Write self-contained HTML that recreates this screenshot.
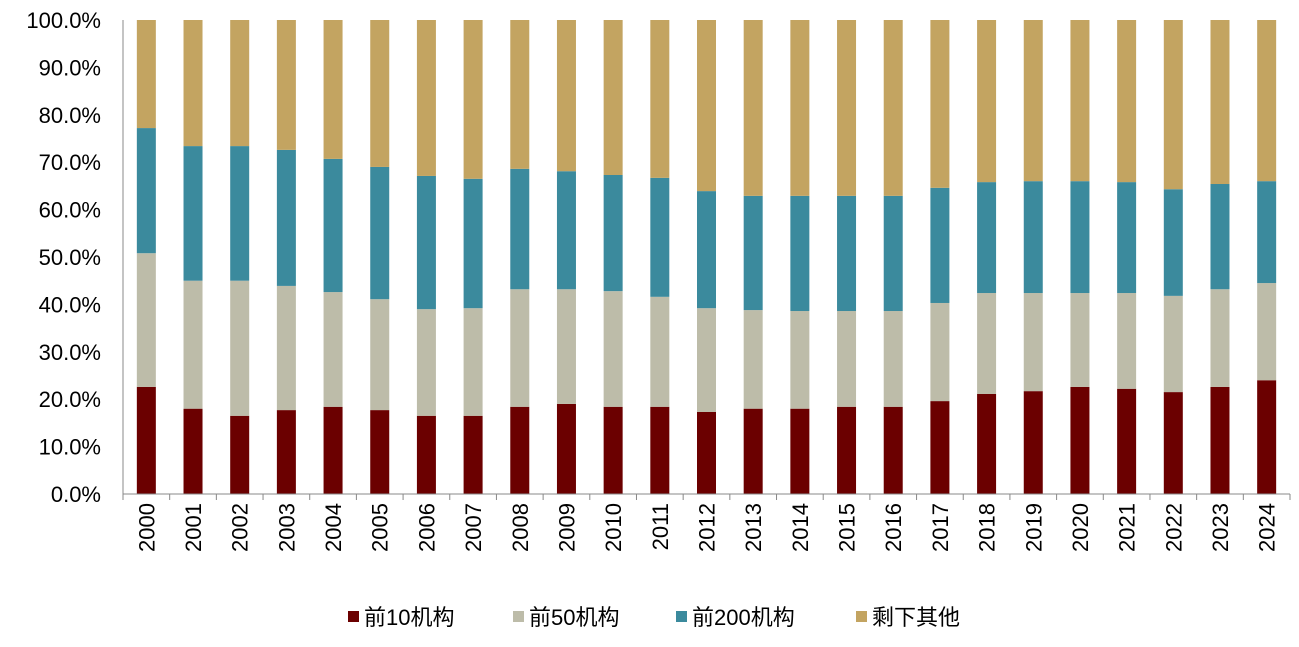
<!DOCTYPE html>
<html><head><meta charset="utf-8"><style>
body{margin:0;background:#fff;width:1299px;height:642px;overflow:hidden}
text{font-family:"Liberation Sans","Noto Sans CJK SC",sans-serif;fill:#000}
</style></head><body>
<svg id="chart" width="1299" height="642" xmlns="http://www.w3.org/2000/svg"></svg>
<script>
const years=["2000","2001","2002","2003","2004","2005","2006","2007","2008","2009","2010","2011","2012","2013","2014","2015","2016","2017","2018","2019","2020","2021","2022","2023","2024"];
const top10=[22.6,18,16.5,17.7,18.4,17.7,16.5,16.5,18.4,19,18.4,18.4,17.3,18,18,18.4,18.4,19.6,21.1,21.7,22.6,22.2,21.5,22.6,24];
const top50=[28.2,27,28.5,26.2,24.2,23.4,22.5,22.7,24.8,24.2,24.4,23.2,21.9,20.8,20.6,20.2,20.2,20.7,21.3,20.7,19.8,20.2,20.3,20.6,20.5];
const top200=[26.4,28.4,28.4,28.7,28.1,27.9,28.1,27.3,25.4,24.9,24.5,25.1,24.7,24.1,24.3,24.3,24.3,24.3,23.4,23.6,23.6,23.4,22.5,22.2,21.5];
const others=[22.8,26.6,26.6,27.4,29.3,31,32.9,33.5,31.4,31.9,32.7,33.3,36.1,37.1,37.1,37.1,37.1,35.4,34.2,34,34,34.2,35.7,34.6,34];
const seriesNames=["前10机构","前50机构","前200机构","剩下其他"];
const yTicks=[0,10,20,30,40,50,60,70,80,90,100];
const series=[top10,top50,top200,others];
const colors=["#6b0000","#bdbca9","#3b8a9d","#c3a461"];
const svg=document.getElementById('chart');const NS="http://www.w3.org/2000/svg";
const x0=123,x1=1290,y0=494,y100=20;
const step=(x1-x0)/years.length;
const xc=i=>x0+step*(i+0.5);
const yv=v=>y0-(y0-y100)*v/100;
function mk(t,a){const e=document.createElementNS(NS,t);for(const k in a)e.setAttribute(k,a[k]);svg.appendChild(e);return e;}
yTicks.forEach(v=>{const t=mk('text',{x:101,y:yv(v)+8,'text-anchor':'end','font-size':22});t.textContent=v.toFixed(1)+'%';

});
years.forEach((yr,i)=>{let cum=0;series.forEach((s,k)=>{const r=mk('rect',{x:xc(i)-9.5,y:yv(cum+s[i]),width:19,height:yv(cum)-yv(cum+s[i]),fill:colors[k]});

cum+=s[i];});
const t=mk('text',{x:0,y:0,'text-anchor':'end','font-size':22,transform:`translate(${xc(i)+8},503) rotate(-90)`});t.textContent=yr;

});
for(let i=0;i<=years.length;i++){const l=mk('line',{x1:x0+step*i,x2:x0+step*i,y1:y0,y2:y0+6,stroke:'#888'});

}
const ax=mk('line',{x1:x0,x2:x0,y1:y100,y2:y0,stroke:'#888'});


const bx=mk('line',{x1:x0,x2:x1,y1:y0,y2:y0,stroke:'#888'});


const lx=[348,513,676,856];
seriesNames.forEach((n,k)=>{const r=mk('rect',{x:lx[k],y:611,width:11,height:11,fill:colors[k]});


const t=mk('text',{x:lx[k]+16,y:625,'font-size':22});t.textContent=n;

});
</script>
</body></html>
